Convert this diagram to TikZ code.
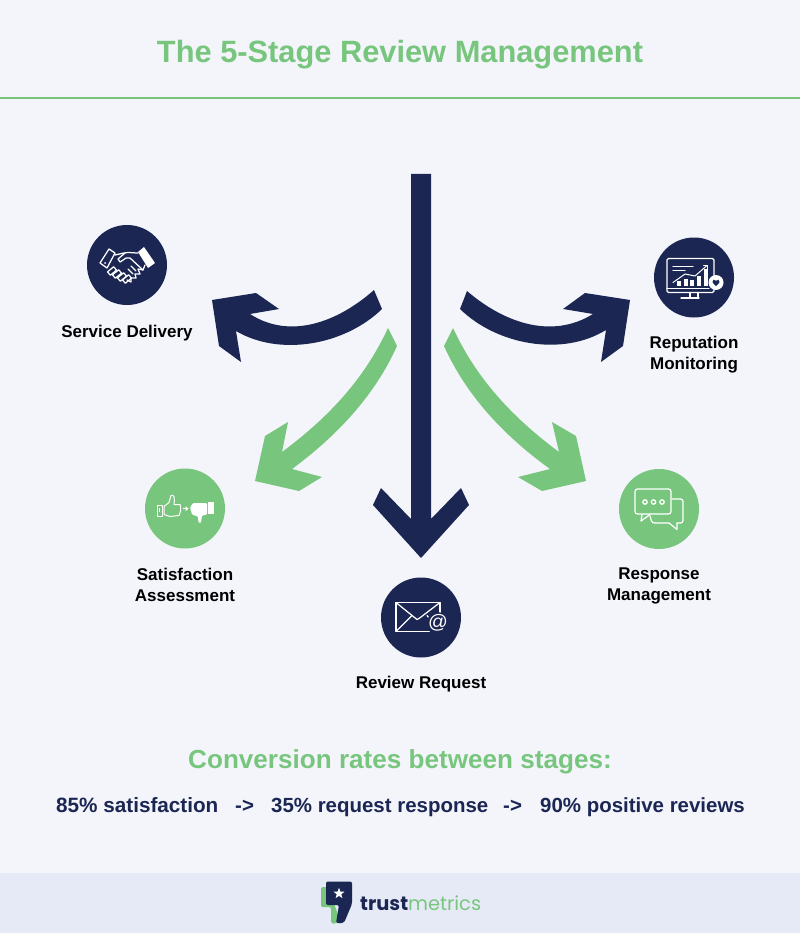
\documentclass[tikz,border=0pt]{standalone}
\usepackage{fontspec}
\usetikzlibrary{shapes.geometric}
\setmainfont{Liberation Sans}
\newfontfamily\logofont{Poppins}
\definecolor{navy}{HTML}{1B2653}
\definecolor{leaf}{HTML}{78C67E}
\definecolor{pagebg}{HTML}{F3F5FB}
\definecolor{footbg}{HTML}{E6EAF6}
\tikzset{
  disc/.style={circle,minimum size=80pt,inner sep=0pt,draw=none},
  navydisc/.style={disc,fill=navy},
  leafdisc/.style={disc,fill=leaf},
  lbl/.style={font=\fontsize{17}{21}\selectfont\bfseries,text=black,align=center,inner sep=0pt},
  ratetxt/.style={font=\fontsize{20.45}{25}\selectfont\bfseries,text=navy,inner sep=0pt,anchor=base west},
  ico/.style={draw=white,line width=1.25pt,line join=round,line cap=round},
}
\begin{document}
\begin{tikzpicture}[x=1pt,y=-1pt]
\useasboundingbox (0,0) rectangle (800,933);
\fill[pagebg] (0,0) rectangle (800,933);
\fill[footbg] (0,873) rectangle (800,933);
\fill[leaf] (0,97) rectangle (800,99.5);
\node[font=\fontsize{30.8}{36}\selectfont\bfseries,text=leaf,inner sep=0pt] (title) at (400,55) {The 5-Stage Review Management};
% arrows
\fill[navy] (411,174) -- (431,174) -- (431,519) -- (461,488) -- (469,505) -- (421,558) -- (373,505) -- (381,488) -- (411,519) -- cycle;
\fill[navy] (374,290) .. controls (338,322) and (290,340) .. (250,314) -- (279,309) -- (256,293) -- (212,300) -- (219,346) -- (241,362) -- (236,331) .. controls (280,357) and (345,345) .. (382,309) -- cycle;
\fill[navy] (467,291) .. controls (503,322) and (551,340) .. (593,314) -- (563,309) -- (585,293) -- (630,300) -- (623,346) -- (601,362) -- (606,330) .. controls (562,357) and (497,345) .. (460,309) -- cycle;
\fill[leaf] (388,328) .. controls (363,382) and (325,420) .. (282,452) -- (288,422) -- (265,436) -- (255,481) -- (299,491) -- (322,477) -- (292,469) .. controls (338,435) and (375,395) .. (397,346) -- cycle;
\fill[leaf] (453,328) .. controls (478,382) and (516,420) .. (559,452) -- (552,422) -- (576,436) -- (586,481) -- (542,491) -- (518,477) -- (550,469) .. controls (503,435) and (466,395) .. (444,346) -- cycle;
% discs
\node[navydisc] (service) at (127,265) {};
\node[navydisc] (monitor) at (694,277.5) {};
\node[leafdisc] (assess) at (185,508.5) {};
\node[leafdisc] (respond) at (659,509) {};
\node[navydisc] (request) at (421,617.5) {};
% labels
\node[lbl] (l1) at (127,333) {Service Delivery};
\node[lbl] (l2) at (694,355) {Reputation\\Monitoring};
\node[lbl] (l3) at (185,585) {Satisfaction\\Assessment};
\node[lbl] (l4) at (659,586) {Response\\Management};
\node[lbl] (l5) at (421,684) {Review Request};
\node[font=\fontsize{26.1}{32}\selectfont\bfseries,text=leaf,inner sep=0pt] (sub) at (400,762) {Conversion rates between stages:};
\node[ratetxt,font=\fontsize{20.7}{25}\selectfont\bfseries] (r1) at (56,812.5) {85\% satisfaction};
\node[ratetxt] (a1) at (235,812.5) {->};
\node[ratetxt] (r2) at (271,812.5) {35\% request response};
\node[ratetxt] (a2) at (503,812.5) {->};
\node[ratetxt] (r3) at (540,812.5) {90\% positive reviews};
% handshake
\begin{scope}[shift={(127,265)}]
\draw[ico] (-27,-2) -- (-18,-16) -- (-12,-12) -- (-20,3) -- cycle;
\fill[white] (-22,-2) circle (1);
\fill[white] (11,-13) -- (17,-18) -- (28,-2) -- (21,3) -- cycle;
\draw[ico] (-12,-10) -- (-3,-12) .. controls (2,-13) and (6,-12) .. (11,-12);
\draw[ico] (-2,-12) -- (-9,-6) -- (-7,-3) -- (-1,-7) -- (3,-7) -- (16,5);
\draw[ico] (18,0) -- (16,5) -- (11,4) -- (13,9) -- (8,9) -- (9,13) -- (4,13) -- (4,17) -- (0,15);
\foreach \a/\b in {-15/6,-10/9,-5/12,0/14}{
  \draw[ico,rotate around={40:(\a,\b)}] (\a-4,\b-2.2) rectangle (\a+4,\b+2.2);
}
\draw[ico] (4,1) -- (9,6); \draw[ico] (1,4) -- (6,9);
\end{scope}
% monitor
\begin{scope}[shift={(694,277.5)}]
\draw[ico,rounded corners=1.5pt] (-27,-19) rectangle (20,15);
\draw[ico] (-27,11) -- (15,11);
\draw[ico] (-4,15) -- (-4,20); \draw[ico] (4,15) -- (4,20); \draw[ico] (-13,20.5) -- (5,20.5);
\draw[ico] (-21,-11) -- (-1,-11); \draw[ico] (-21,-7) -- (-9,-7);
\foreach \x/\h in {-17/5,-10.5/7,-4/6,3/10,10/17}{\fill[white] (\x,8) rectangle (\x+4.2,8-\h);}
\draw[ico,line width=1pt] (-21,5) -- (-9,-3.5) -- (1,-1.5) -- (13,-12);
\draw[ico,line width=1pt] (9.5,-12) -- (13,-12) -- (13,-8.5);
\fill[white] (22,5) circle (7.5);
\fill[navy] (22,8.5) .. controls (18,5.5) and (17.5,3) .. (19.5,2.2) .. controls (20.7,1.8) and (21.6,2.5) .. (22,3.3) .. controls (22.4,2.5) and (23.3,1.8) .. (24.5,2.2) .. controls (26.5,3) and (26,5.5) .. (22,8.5) -- cycle;
\end{scope}
% thumbs
\begin{scope}[shift={(185,508.5)}]
\draw[ico,line width=1pt] (-28,-3.5) rectangle (-23,8);
\fill[white] (-26.2,-1) rectangle (-25,3);
\draw[ico,line width=1pt] (-21,-2) -- (-16,-6) -- (-14,-13) .. controls (-11,-15) and (-10,-10) .. (-11,-4) -- (-5,-4) .. controls (-4,-1) and (-4,3) .. (-6,7) -- (-15,8) -- (-21,6) -- cycle;
\fill[white] (-2.5,-0.4) rectangle (1,0.9);
\fill[white] (.5,-2.4) -- (3.5,.2) -- (.5,2.8) -- cycle;
\fill[white,rounded corners=1pt] (5,-1) -- (8,-5.5) -- (22,-5.5) -- (22,6) -- (17,7) -- (16,14) .. controls (14,15) and (13,13) .. (13,8) -- (7,6) -- cycle;
\fill[white] (23,-6.5) rectangle (28.5,5);
\end{scope}
% chat
\begin{scope}[shift={(659,509)}]
\draw[ico,rounded corners=2.5pt] (-24,-20) -- (12,-20) -- (12,5) -- (-9,5) -- (-17,5) -- (-24,5) -- cycle;
\draw[ico] (-17,5.5) -- (-18,12) -- (-9,5.5);
\draw[ico,rounded corners=2.5pt] (13,-10) -- (24,-10) -- (24,14) -- (18,14);
\draw[ico,rounded corners=2.5pt] (10,14) -- (-7,14) -- (-9,7);
\draw[ico] (18,14) -- (18,20.5) -- (10,14);
\foreach \x in {-14,-5.5,3}{\draw[ico] (\x,-7) circle (2.2);}
\end{scope}
% envelope
\begin{scope}[shift={(421,617.5)}]
\draw[ico] (-25,-15) rectangle (19,14);
\draw[ico] (-25,-15) -- (-4,2) -- (-2,1) -- (19,-15);
\draw[ico] (-25,14) -- (-9,-2);
\draw[ico] (19,14) -- (6,-2);
\fill[navy] (17,6) circle (11.5);
\node[text=white,inner sep=0pt,font=\fontsize{19.5}{20}\selectfont] (atsign) at (17,5.5) {@};
\end{scope}
% logo
\fill[leaf,rounded corners=1.5pt] (321,887) -- (328,887) -- (340,920) -- (335,924) -- (331,923) -- (331,907) -- (321,907) -- cycle;
\fill[navy,rounded corners=2pt] (326,881.5) -- (352,881.5) -- (352,904) -- (344,923) -- (336,923) -- (339,905) -- (326,905) -- cycle;
\node[star,star points=5,star point ratio=2.4,fill=white,minimum size=11.5pt,inner sep=0pt] (logostar) at (339,893.5) {};
\node[anchor=base west,inner sep=0pt,font=\fontsize{19.4}{25}\selectfont\logofont] (logotext) at (360,910) {\textcolor{navy}{\bfseries trust}\textcolor{leaf}{metrics}};
\end{tikzpicture}
\end{document}
